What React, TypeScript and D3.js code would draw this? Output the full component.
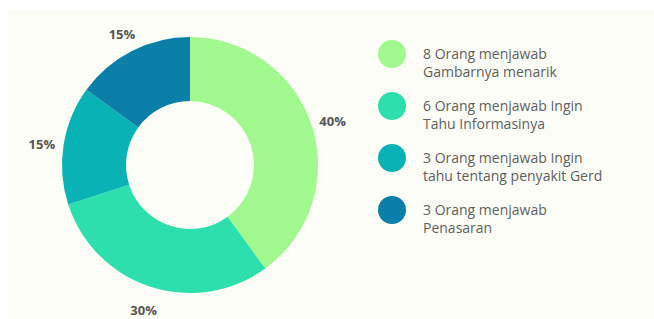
import React from 'react';
import * as d3 from 'd3';

const categories = [
  '8 Orang menjawab|Gambarnya menarik',
  '6 Orang menjawab Ingin|Tahu Informasinya',
  '3 Orang menjawab Ingin|tahu tentang penyakit Gerd',
  '3 Orang menjawab|Penasaran',
];
const values = [40, 30, 15, 15];
const pctLabels = ['40%', '30%', '15%', '15%'];
const colors = ['#a0f88f', '#2edfae', '#09b3b5', '#0b7fa8'];

const App = () => {
  const width = 654;
  const height = 319;
  const cx = 190;
  const cy = 165;
  const outerR = 128;
  const innerR = 64;
  const labelR = 150;

  // pie in data order, clockwise from 12 o'clock
  const pie = d3.pie<number>().sort(null).value((d) => d);
  const arcs = pie(values);
  const arc = d3.arc<d3.PieArcDatum<number>>().innerRadius(innerR).outerRadius(outerR);
  const labelArc = d3.arc<d3.PieArcDatum<number>>().innerRadius(labelR).outerRadius(labelR);

  // legend rows
  const legendY = d3.scaleLinear().domain([0, 1]).range([54, 106]);

  return (
    <svg
      width={width}
      height={height}
      style={{ position: 'absolute', left: 0, top: 0, fontFamily: '"Open Sans", sans-serif' }}
    >
      <rect x={0} y={0} width={width} height={height} fill="#ffffff" />
      <rect x={8} y={10} width={width - 8} height={height - 10} fill="#fcfdf6" />
      <g transform={`translate(${cx},${cy})`}>
        {arcs.map((a, i) => (
          <path key={i} d={arc(a) || ''} fill={colors[i]} />
        ))}
        {arcs.map((a, i) => {
          const [x, y] = labelArc.centroid(a);
          return (
            <text
              key={'l' + i}
              x={x}
              y={y + 3}
              dy="0.35em"
              textAnchor="middle"
              fontSize={13}
              fontWeight="bold"
              fill="#555"
            >
              {pctLabels[i]}
            </text>
          );
        })}
      </g>
      {categories.map((c, i) => {
        const y = legendY(i);
        const lines = c.split('|');
        return (
          <g key={'g' + i}>
            <circle cx={392} cy={y} r={14} fill={colors[i]} />
            {lines.map((t, j) => (
              <text key={j} x={423} y={y + 5 + j * 18} fontSize={14} fill="#5f5f5f">
                {t}
              </text>
            ))}
          </g>
        );
      })}
    </svg>
  );
};

export default App;
